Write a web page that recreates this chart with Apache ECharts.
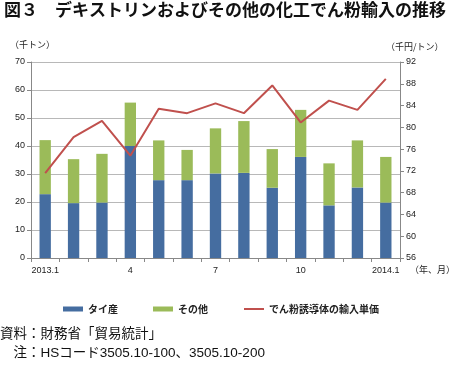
<!DOCTYPE html>
<html><head><meta charset="utf-8">
<script src="https://cdn.jsdelivr.net/npm/echarts@6/dist/echarts.min.js"></script>
<style>html,body{margin:0;padding:0;background:#fff}#c{width:450px;height:365px}</style>
</head><body><div id="c"></div>
<script>
const categories = ['2013.1','2','3','4','5','6','7','8','9','10','11','12','2014.1'];
const thai = [22.8, 19.6, 19.8, 40.0, 27.8, 27.8, 30.2, 30.4, 25.1, 36.1, 18.8, 25.2, 19.8];
const other = [19.3, 15.7, 17.4, 15.5, 14.2, 10.8, 16.1, 18.5, 13.8, 16.8, 15.0, 16.8, 16.3];
const price = [71.6, 78.2, 81.2, 74.8, 83.4, 82.6, 84.4, 82.6, 87.7, 80.9, 84.9, 83.2, 88.9];
const leftTicks = [0, 70, 10];
const rightTicks = [56, 92, 4];

const font = '"Noto Sans CJK JP", "Noto Sans", sans-serif';
const mixed = '"Liberation Sans", "Noto Sans CJK JP", sans-serif';
const chart = echarts.init(document.getElementById('c'));
chart.setOption({
  animation: false,
  textStyle: {fontFamily: font},
  grid: {left: 31, right: 50, top: 62, bottom: 107},
  legend: {
    left: 58, top: 299, itemWidth: 20, itemHeight: 5, itemGap: 35,
    textStyle: {fontSize: 10, color: '#222', fontFamily: font, fontWeight: 'bold'},
    data: [{name: 'タイ産', icon: 'rect'}, {name: 'その他', icon: 'rect'},
           {name: 'でん粉誘導体の輸入単価', itemStyle: {opacity: 0, borderWidth: 0}}]
  },
  xAxis: {
    type: 'category', data: categories,
    axisLine: {lineStyle: {color: '#888'}},
    axisTick: {show: true, interval: 0, alignWithLabel: false, length: 4, lineStyle: {color: '#888'}},
    axisLabel: {interval: 2, color: '#222', fontSize: 9, margin: 8, fontFamily: 'Liberation Sans, Arial, sans-serif'}
  },
  yAxis: [
    {type: 'value', min: leftTicks[0], max: leftTicks[1], interval: leftTicks[2],
     axisLine: {show: true, lineStyle: {color: '#888'}},
     axisTick: {show: true, length: 4, lineStyle: {color: '#888'}},
     splitLine: {lineStyle: {color: '#b8b8b8'}},
     axisLabel: {color: '#222', fontSize: 9, margin: 6, fontFamily: 'Liberation Sans, Arial, sans-serif'}},
    {type: 'value', min: rightTicks[0], max: rightTicks[1], interval: rightTicks[2],
     axisLine: {show: true, lineStyle: {color: '#888'}},
     axisTick: {show: true, length: 4, lineStyle: {color: '#888'}},
     splitLine: {show: false},
     axisLabel: {color: '#222', fontSize: 9, margin: 6, fontFamily: 'Liberation Sans, Arial, sans-serif'}}
  ],
  series: [
    {name: 'タイ産', type: 'bar', stack: 't', data: thai, barWidth: '40%', itemStyle: {color: '#456DA0'}},
    {name: 'その他', type: 'bar', stack: 't', data: other, barWidth: '40%', itemStyle: {color: '#9BBB59'}},
    {name: 'でん粉誘導体の輸入単価', type: 'line', yAxisIndex: 1, data: price, symbol: 'none',
     lineStyle: {color: '#C0504D', width: 2}, itemStyle: {color: '#C0504D'}}
  ],
  graphic: [
    {type: 'text', left: 4, top: 1, style: {text: '図３　デキストリンおよびその他の化工でん粉輸入の推移', font: 'bold 17px ' + font, fill: '#111'}},
    {type: 'text', left: 10, top: 40, style: {text: '（千トン）', font: '9px ' + font, fill: '#222'}},
    {type: 'text', left: 386, top: 42, style: {text: '（千円/トン）', font: '9px ' + font, fill: '#222'}},
    {type: 'text', left: 410, top: 265, style: {text: '（年、月）', font: '9px ' + font, fill: '#222'}},
    {type: 'text', left: 0, top: 328, style: {text: '資料：財務省「貿易統計」', font: '13.5px ' + mixed, fill: '#111'}},
    {type: 'text', left: 0, top: 347, style: {text: '　注：HSコード3505.10-100、3505.10-200', font: '13.5px ' + mixed, fill: '#111'}}
  ]
});
</script></body></html>
